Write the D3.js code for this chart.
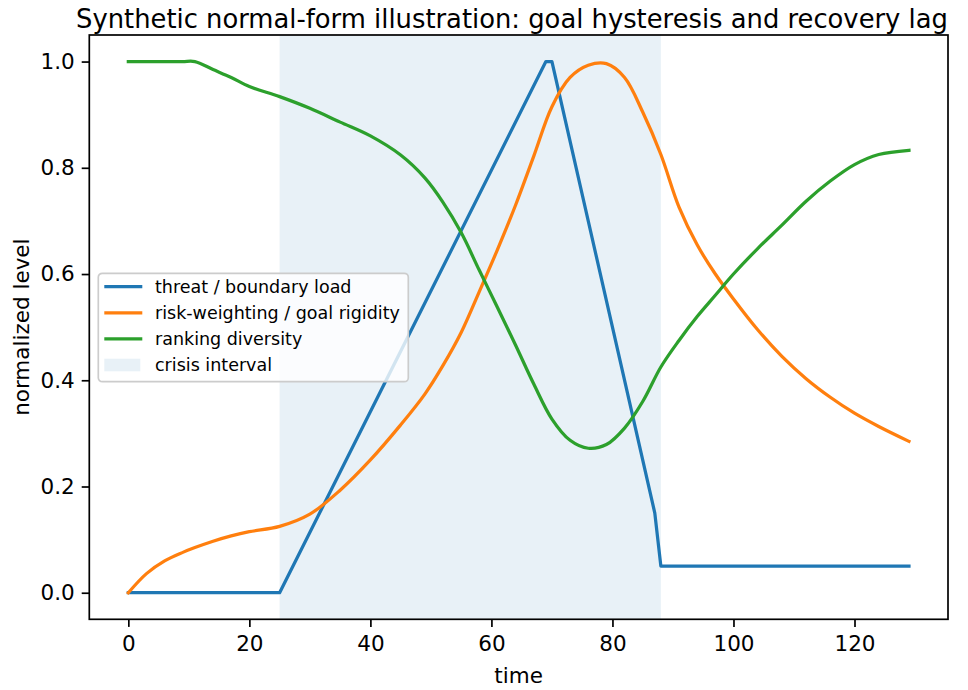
<!DOCTYPE html>
<html>
<head>
<meta charset="utf-8">
<script src="https://cdn.jsdelivr.net/npm/d3@7"></script>
<style>
    body { margin: 0; background: #fff; }
    svg { display: block; font-family: "DejaVu Sans", sans-serif; }
</style>
</head>
<body>
<svg id="chart"></svg>
<script>
const title = "Synthetic normal-form illustration: goal hysteresis and recovery lag"

// time steps for the smooth series
const smoothTime = [0, 3, 6, 9, 11, 14, 17, 20, 25, 30, 35, 40, 45, 49, 52, 55, 58, 61, 64, 67,
    70, 73, 76, 79, 82, 85, 88, 91, 94, 97, 100, 104, 108, 112, 116, 120, 124, 129]

const riskWeighting = [0, 0.036, 0.060, 0.076, 0.085, 0.097, 0.107, 0.115, 0.125, 0.148, 0.193, 0.25,
    0.316, 0.374, 0.428, 0.49, 0.567, 0.646, 0.73, 0.822, 0.915, 0.97, 0.993, 0.996, 0.97,
    0.905, 0.825, 0.726, 0.655, 0.60, 0.553, 0.495, 0.445, 0.403, 0.368, 0.338, 0.313, 0.285]

const rankingDiversity = [1, 1, 1, 1, 1, 0.985, 0.970, 0.953, 0.934, 0.912, 0.886, 0.860,
    0.824, 0.781, 0.735, 0.678, 0.607, 0.537, 0.466, 0.393, 0.327, 0.287, 0.272, 0.279, 0.31,
    0.36, 0.425, 0.475, 0.52, 0.56, 0.60, 0.648, 0.692, 0.737, 0.775, 0.806, 0.825, 0.833]

// piecewise linear threat signal
const threatTime = [0, 25, 69, 70, 87, 88, 129]
const threatLoad = [0, 0, 1, 1, 0.15, 0.05, 0.05]

const crisisInterval = [25, 88]

const xTicks = [0, 20, 40, 60, 80, 100, 120]
const yTicks = [0, 0.2, 0.4, 0.6, 0.8, 1.0]

const seriesNames = ["threat / boundary load", "risk-weighting / goal rigidity", "ranking diversity"]
const seriesColors = ["#1f77b4", "#ff7f0e", "#2ca02c"]

const W = 968
const H = 690
const margin = { top: 35, right: 20, bottom: 70.7, left: 89.3 }
const w = W - margin.left - margin.right
const h = H - margin.top - margin.bottom

const svg = d3.select("#chart")
    .attr("width", W)
    .attr("height", H)

const g = svg.append("g")
    .attr("transform", `translate(${margin.left},${margin.top})`)

const xScale = d3.scaleLinear()
    .domain([-6.45, 135.45])
    .range([0, w])

const yScale = d3.scaleLinear()
    .domain([-0.05, 1.05])
    .range([h, 0])

// crisis shading
g.append("rect")
    .attr("x", xScale(crisisInterval[0]))
    .attr("y", 0)
    .attr("width", xScale(crisisInterval[1]) - xScale(crisisInterval[0]))
    .attr("height", h)
    .attr("fill", "#1f77b4")
    .attr("fill-opacity", 0.1)

const series = [
    threatTime.map((t, i) => ({ t: t, v: threatLoad[i] })),
    smoothTime.map((t, i) => ({ t: t, v: riskWeighting[i] })),
    smoothTime.map((t, i) => ({ t: t, v: rankingDiversity[i] }))
]

const straightLine = d3.line()
    .x(d => xScale(d.t))
    .y(d => yScale(d.v))

const smoothLine = d3.line()
    .x(d => xScale(d.t))
    .y(d => yScale(d.v))
    .curve(d3.curveCatmullRom.alpha(0.5))

series.forEach((s, i) => {
    g.append("path")
        .datum(s)
        .attr("d", i === 0 ? straightLine : smoothLine)
        .attr("fill", "none")
        .attr("stroke", seriesColors[i])
        .attr("stroke-width", 3.25)
        .attr("stroke-linejoin", "round")
        .attr("stroke-linecap", "square")
})

// axes
const xAxis = d3.axisBottom(xScale)
    .tickValues(xTicks)
    .tickSize(7.6)
    .tickPadding(7)
    .tickFormat(d3.format("d"))

const yAxis = d3.axisLeft(yScale)
    .tickValues(yTicks)
    .tickSize(7.6)
    .tickPadding(7)
    .tickFormat(d3.format(".1f"))

const gx = g.append("g")
    .attr("transform", "translate(0," + h + ")")
    .call(xAxis)

const gy = g.append("g")
    .call(yAxis)

for (const ax of [gx, gy]) {
    ax.select(".domain").remove()
    ax.selectAll(".tick line").attr("stroke", "#000").attr("stroke-width", 1.7)
    ax.selectAll(".tick text")
        .attr("fill", "#000")
        .style("font-size", "21.5px")
        .style("font-family", "DejaVu Sans")
}
gx.selectAll(".tick text").attr("dy", "0.78em")

// frame
g.append("rect")
    .attr("x", 0)
    .attr("y", 0)
    .attr("width", w)
    .attr("height", h)
    .attr("fill", "none")
    .attr("stroke", "#000")
    .attr("stroke-width", 1.7)

// labels
svg.append("text")
    .attr("x", margin.left + w / 2)
    .attr("y", 675)
    .attr("text-anchor", "middle")
    .attr("dominant-baseline", "central")
    .style("font-size", "21.5px")
    .text("time")

svg.append("text")
    .attr("transform", `translate(21,${margin.top + h / 2}) rotate(-90)`)
    .attr("text-anchor", "middle")
    .attr("dominant-baseline", "central")
    .style("font-size", "21.5px")
    .text("normalized level")

svg.append("text")
    .attr("x", 512)
    .attr("y", 19)
    .attr("text-anchor", "middle")
    .attr("dominant-baseline", "central")
    .style("font-size", "25.8px")
    .text(title)

// legend
const legend = g.append("g")
    .attr("transform", "translate(9,238.3)")

legend.append("rect")
    .attr("width", 310)
    .attr("height", 108.4)
    .attr("rx", 4)
    .attr("fill", "#fff")
    .attr("fill-opacity", 0.8)
    .attr("stroke", "#cccccc")
    .attr("stroke-width", 1.7)

const legendItems = seriesNames.map((name, i) => ({ name: name, color: seriesColors[i], kind: "line" }))
legendItems.push({ name: "crisis interval", color: "#1f77b4", kind: "patch" })

legendItems.forEach((item, i) => {
    const cy = 13.4 + i * 26.1
    if (item.kind === "line") {
        legend.append("line")
            .attr("x1", 6)
            .attr("x2", 44)
            .attr("y1", cy)
            .attr("y2", cy)
            .attr("stroke", item.color)
            .attr("stroke-width", 3.25)
    } else {
        legend.append("rect")
            .attr("x", 6)
            .attr("y", cy - 6.3)
            .attr("width", 36)
            .attr("height", 12.6)
            .attr("fill", item.color)
            .attr("fill-opacity", 0.1)
    }
    legend.append("text")
        .attr("x", 56.7)
        .attr("y", cy)
        .attr("dominant-baseline", "central")
        .style("font-size", "17.5px")
        .text(item.name)
})
</script>
</body>
</html>
